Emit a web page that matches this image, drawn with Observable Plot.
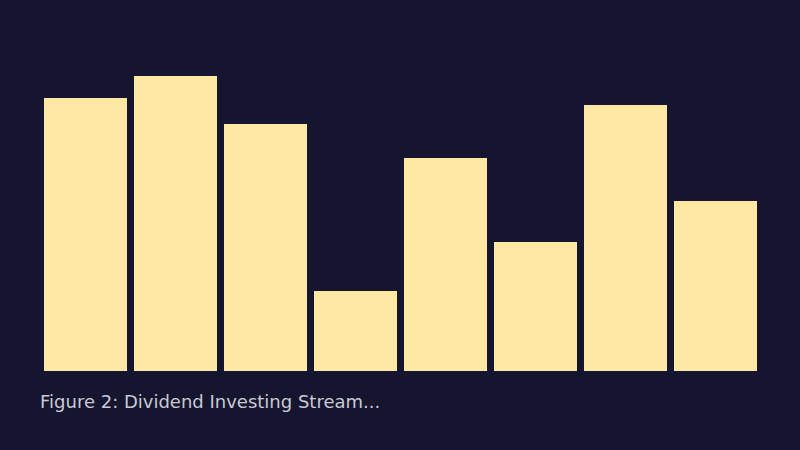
<!DOCTYPE html>
<html>
<head>
<meta charset="utf-8">
<script src="https://cdn.jsdelivr.net/npm/d3@7"></script>
<script src="https://cdn.jsdelivr.net/npm/@observablehq/plot@0.6"></script>
<style>
  html, body { margin: 0; padding: 0; background: #15152f; }
  #chart { width: 800px; height: 450px; background: #15152f; overflow: hidden; }
  #caption { font-family: "DejaVu Sans", sans-serif; font-size: 18px; color: #c9c9d3; margin: 11px 0 0 40px; line-height: 21px; }
</style>
</head>
<body>
<div id="chart"></div>
<script>
const categories = ["A", "B", "C", "D", "E", "F", "G", "H"];
const values = [5.46, 5.90, 4.94, 1.60, 4.26, 2.58, 5.32, 3.40];

const data = categories.map((c, i) => ({category: c, value: values[i]}));

const plot = Plot.plot({
  width: 800,
  height: 380,
  marginTop: 21,
  marginBottom: 9,
  marginLeft: 44,
  marginRight: 43,
  style: {background: "#15152f"},
  x: {domain: categories, paddingInner: 0.0778, paddingOuter: 0, round: false, axis: null},
  y: {domain: [0, 7], axis: null},
  marks: [
    Plot.barY(data, {x: "category", y: "value", fill: "#ffe8a3"})
  ]
});
const chart = document.getElementById("chart");
chart.appendChild(plot);
const cap = document.createElement("div");
cap.id = "caption";
cap.textContent = "Figure 2: Dividend Investing Stream...";
chart.appendChild(cap);
</script>
</body>
</html>
